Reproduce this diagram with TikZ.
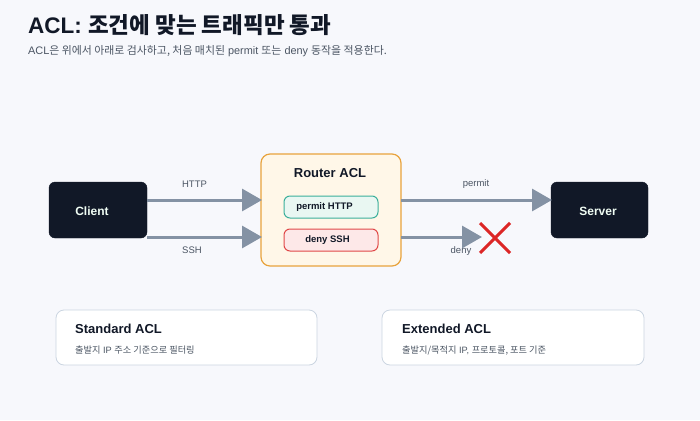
\documentclass[tikz,border=0pt]{standalone}
\usepackage{fontspec}
\setmainfont{Liberation Sans}
\newfontfamily\ko{Noto Sans CJK KR}
\usetikzlibrary{arrows.meta}
\definecolor{bg}{HTML}{F7F8FC}
\definecolor{ink}{HTML}{111827}
\definecolor{sub}{HTML}{4B5563}
\definecolor{arr}{HTML}{8492A4}
\definecolor{rfill}{HTML}{FFF7E8}
\definecolor{rline}{HTML}{E8A33D}
\definecolor{pfill}{HTML}{E9F7F2}
\definecolor{pline}{HTML}{3BAF9B}
\definecolor{dfill}{HTML}{FDE8E8}
\definecolor{dline}{HTML}{E04848}
\definecolor{xred}{HTML}{DC2626}
\definecolor{cline}{HTML}{CBD5E1}
\definecolor{light}{HTML}{F0FDF4}
\tikzset{
  darkbox/.style={fill=ink,draw=ink,rounded corners=6pt},
  rulebox/.style={rounded corners=6pt,line width=1pt},
  flow/.style={draw=arr,line width=3pt,-{Triangle[length=20pt,width=22pt]}},
  lbl/.style={text=sub,font=\fontsize{9.5}{11}\selectfont},
  card/.style={fill=white,draw=cline,line width=0.8pt,rounded corners=8pt},
}
\begin{document}
\begin{tikzpicture}[x=1pt,y=-1pt]
\fill[bg] (0,0) rectangle (700,420);
\useasboundingbox (0,0) rectangle (700,420);
% title
\node[anchor=base west,inner sep=0,text=ink] (title) at (28,33.5)
  {\bfseries\fontsize{22.5}{26}\selectfont ACL: {\ko\bfseries 조건에 맞는 트래픽만 통과}};
\node[anchor=base west,inner sep=0,text=sub] (subtitle) at (28,54)
  {\fontsize{10.9}{12}\selectfont ACL{\ko 은 위에서 아래로 검사하고, 처음 매치된} permit {\ko 또는} deny {\ko 동작을 적용한다.}};
% boxes
\path[darkbox] (49,182) rectangle (147,238);
\node[inner sep=0] (client) at (98,210) {};
\node[text=light,font=\bfseries\fontsize{12}{14}\selectfont] (clientt) at (92,211) {Client};
\path[darkbox] (551,182) rectangle (648,238);
\node[text=light,font=\bfseries\fontsize{12}{14}\selectfont] (servert) at (598,211) {Server};
\path[fill=rfill,draw=rline,line width=1.2pt,rounded corners=9pt] (261,154) rectangle (401,266);
\node[text=ink,font=\bfseries\fontsize{13}{15}\selectfont] (routert) at (330,173) {Router ACL};
\path[rulebox,fill=pfill,draw=pline] (284,196) rectangle (378,218);
\node[text=ink,font=\bfseries\fontsize{9.5}{11}\selectfont] (permitt) at (324.5,207) {permit HTTP};
\path[rulebox,fill=dfill,draw=dline] (284,229) rectangle (378,251);
\node[text=ink,font=\bfseries\fontsize{9.5}{11}\selectfont] (denyt) at (327.5,240) {deny SSH};
% connector anchors
\coordinate (c1) at (147,200); \coordinate (r1) at (262,200);
\coordinate (c2) at (147,237); \coordinate (r2) at (262,237);
\coordinate (r3) at (401,200); \coordinate (s1) at (552,200);
\coordinate (r4) at (401,237); \coordinate (dend) at (482,237);
\draw[flow] (c1) -- (r1);
\draw[flow] (c2) -- (r2);
\draw[flow] (r3) -- (s1);
\draw[flow] (r4) -- (dend);
\node[lbl] (http) at (194.5,184) {HTTP};
\node[lbl] (ssh) at (192,250) {SSH};
\node[lbl] (permitl) at (476,184) {permit};
\node[lbl] (denyl) at (461,251) {deny};
% red X
\draw[xred,line width=3pt] (480,223) -- (510,253) (510,223) -- (480,253);
% cards
\path[card] (56,310) rectangle (317,365);
\node[anchor=base west,inner sep=0,text=ink,font=\bfseries\fontsize{13}{15}\selectfont] (stdt) at (75,333) {Standard ACL};
\node[anchor=base west,inner sep=0,text=sub,font=\fontsize{9.2}{11}\selectfont] (stds) at (75,353) {{\ko 출발지} IP {\ko 주소 기준으로 필터링}};
\path[card] (382,310) rectangle (644,365);
\node[anchor=base west,inner sep=0,text=ink,font=\bfseries\fontsize{13}{15}\selectfont] (extt) at (402,333) {Extended ACL};
\node[anchor=base west,inner sep=0,text=sub,font=\fontsize{9.2}{11}\selectfont] (exts) at (402,353) {{\ko 출발지/목적지} IP, {\ko 프로토콜, 포트 기준}};
\end{tikzpicture}
\end{document}
